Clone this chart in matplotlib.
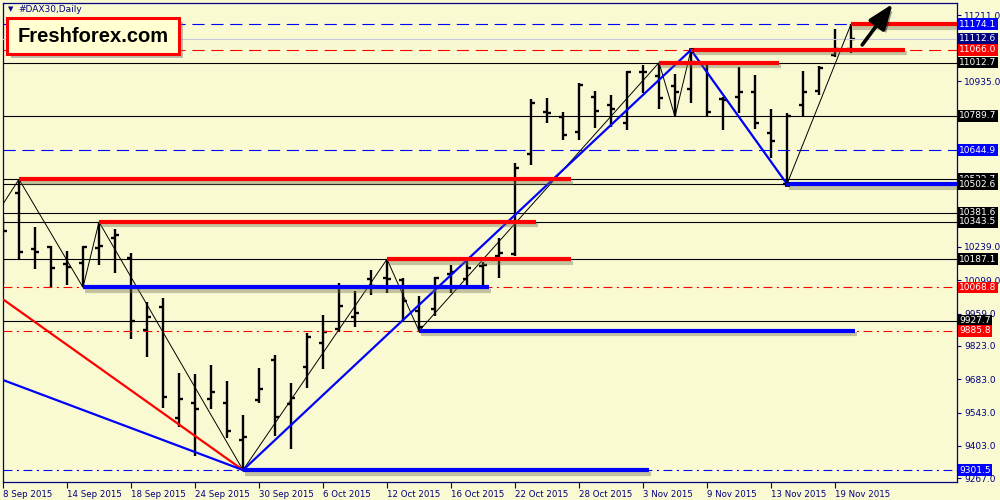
import numpy as np
import matplotlib
matplotlib.use('Agg')
import matplotlib.pyplot as plt
import matplotlib.patheffects as pe
import matplotlib.transforms as mtransforms
from matplotlib.patches import Rectangle

# datos diarios DAX30 (8 Sep - 20 Nov 2015)
opens = [10150, 10465.1, 10230, 10239.6, 10166.9, 10172.4, 10232.9, 10274.8, 10193.4, 9889.7,
         9987.9, 9521.4, 9584.4, 9598.6, 9584.4, 9427.7, 9595.7, 9763.7, 9579.0, 9733.0,
         9833.8, 9892.6, 9943.0, 10103.9, 10108.0, 10099.7, 9969.5, 9977.9, 10123.6, 10102.6,
         10158.5, 10200.5, 10207.6, 10627.7, 10806.6, 10783.0, 10722.6, 10869.6, 10834.7, 10757.8,
         10973.3, 10956.5, 10914.5, 10900.6, 11006.9, 10859.9, 10867.1, 10890.6, 10718.4, 10505.0,
         10834.7, 10895.6, 11044.7, 11068.6]
highs = [10364.3, 10522.7, 10321.0, 10242.5, 10221.5, 10242.5, 10343.5, 10312.6, 10211.8, 10008.9,
         10022.8, 9707.8, 9704.9, 9742.7, 9676.8, 9532.7, 9728.8, 9784.7, 9668.4, 9875.8,
         9952.7, 10085.8, 10054.8, 10141.7, 10187.1, 10106.8, 10032.5, 10113.6, 10162.7, 10197.6,
         10176.6, 10274.8, 10589.8, 10858.6, 10862.8, 10806.6, 10925.8, 10894.8, 10876.7, 10978.8,
         11002.7, 11012.7, 10963.6, 11066.0, 11012.4, 10869.6, 10995.6, 10960.7, 10816.6, 10799.8,
         10977.5, 10998.5, 11152.6, 11174.1]
lows = [10082.9, 10183.7, 10145.9, 10071.6, 10078.7, 10068.8, 10162.7, 10127.8, 9850.6, 9777.6,
        9560.8, 9480.9, 9360.5, 9556.6, 9434.8, 9301.5, 9581.8, 9444.5, 9388.8, 9644.8,
        9724.6, 9882.6, 9901.0, 10036.7, 10046.4, 9924.6, 9885.8, 9948.5, 10046.4, 10071.6,
        10071.6, 10106.8, 10200.5, 10582.7, 10757.7, 10687.7, 10687.7, 10739.4, 10743.6, 10729.7,
        10883.8, 10816.6, 10785.6, 10841.8, 10785.6, 10729.7, 10799.8, 10732.6, 10610.9, 10502.6,
        10785.6, 10876.7, 11035.0, 11051.8]
closes = [10305.5, 10218.6, 10216.0, 10151.4, 10155.6, 10239.6, 10243.8, 10288.7, 9928.8, 9945.6,
          9609.6, 9601.2, 9556.6, 9628.1, 9466.8, 9439.0, 9640.8, 9525.6, 9602.8, 9859.0,
          9882.6, 9991.8, 9961.0, 10074.5, 10104.0, 10012.8, 9903.6, 10109.4, 10133.3, 10148.8,
          10162.7, 10214.4, 10568.8, 10841.8, 10799.8, 10708.7, 10918.7, 10809.5, 10816.6, 10974.6,
          10972.0, 10865.4, 10890.6, 11015.3, 10806.6, 10857.8, 10890.6, 10757.8, 10684.8, 10789.8,
          10890.6, 10988.8, 11068.6, 11112.6]

date_labels = ['8 Sep 2015', '14 Sep 2015', '18 Sep 2015', '24 Sep 2015', '30 Sep 2015',
               '6 Oct 2015', '12 Oct 2015', '16 Oct 2015', '22 Oct 2015', '28 Oct 2015',
               '3 Nov 2015', '9 Nov 2015', '13 Nov 2015', '19 Nov 2015']
price_ticks = [11211.0, 10935.0, 10239.0, 10099.0, 9959.0, 9823.0, 9683.0, 9543.0, 9403.0, 9267.0]

# niveles horizontales
solid_levels = [11012.7, 10789.7, 10522.7, 10502.6, 10381.6, 10343.5, 10187.1, 9927.7]
blue_dash_levels = [11174.1, 10644.9]
red_dash_levels = [11066.0]
red_dashdot_levels = [10068.8, 9885.8]
blue_dashdot_levels = [9301.5]
bid = 11112.6

# segmentos gruesos (inicio, fin, precio)
red_segments = [(53, 60, 11174.1), (43, 56.4, 11066.0), (41, 48.5, 11012.7),
                (1, 35.5, 10522.7), (6, 33.3, 10343.5), (24, 35.5, 10187.1)]
blue_segments = [(49, 60, 10502.6), (5, 30.4, 10068.8), (26, 53.25, 9885.8), (15, 40.4, 9301.5)]

# lineas diagonales
zigzag_x = [-1, 1, 5, 6, 15, 24, 26, 41, 42, 43, 49, 53]
zigzag_y = [10315, 10522.7, 10068.8, 10343.5, 9301.5, 10187.1, 9885.8, 11012.7, 10785.6, 11066.0, 10502.6, 11174.1]
trend_x = [15, 43, 49]
trend_y = [9301.5, 11066.0, 10502.6]
red_fan_x = [0, 15]
red_fan_y = [10018.6, 9301.5]
blue_fan_x = [0, 15]
blue_fan_y = [9679.7, 9301.5]

# etiquetas de precio a la derecha
price_labels = [(11174.1, '#0000ff'), (11112.6, '#000080'), (11066.0, '#ff0000'), (11012.7, 'black'),
                (10789.7, 'black'), (10644.9, '#0000ff'), (10522.7, 'black'), (10502.6, 'black'),
                (10381.6, 'black'), (10343.5, 'black'), (10187.1, 'black'), (10068.8, '#ff0000'),
                (9927.7, 'black'), (9885.8, '#ff0000'), (9301.5, '#0000ff')]

bg = '#fafad2'
navy = '#000080'
plt.rcParams['font.family'] = 'DejaVu Sans'

fig = plt.figure(figsize=(10, 5), dpi=100, facecolor=bg)
ax = fig.add_axes([0.003, 0.036, 0.954, 0.958], facecolor=bg)

x = np.arange(len(opens))
ax.vlines(x, lows, highs, color='black', lw=1.7, zorder=2)
ax.hlines(opens, x - 0.28, x, color='black', lw=1.7, zorder=2)
ax.hlines(closes, x, x + 0.28, color='black', lw=1.7, zorder=2)

for lv in solid_levels:
    ax.axhline(lv, color='black', lw=0.8, zorder=3)
for lv in blue_dash_levels:
    ax.axhline(lv, color='#0000ff', lw=0.8, ls=(0, (11, 6)), zorder=3)
for lv in red_dash_levels:
    ax.axhline(lv, color='#ff0000', lw=0.8, ls=(0, (11, 6)), zorder=3)
for lv in red_dashdot_levels:
    ax.axhline(lv, color='#ff0000', lw=0.8, ls=(0, (8, 4, 2, 4)), zorder=3)
for lv in blue_dashdot_levels:
    ax.axhline(lv, color='#0000ff', lw=0.8, ls=(0, (8, 4, 2, 4)), zorder=3)
ax.axhline(bid, color='#c8c8dc', lw=0.8, zorder=3)

shadow = [pe.SimpleLineShadow(offset=(1.5, -2.5), shadow_color='#707050', alpha=0.4), pe.Normal()]
for x0, x1, p in red_segments:
    ax.plot([x0, x1], [p, p], color='#ff0000', lw=3, solid_capstyle='butt', zorder=5, path_effects=shadow)
for x0, x1, p in blue_segments:
    ax.plot([x0, x1], [p, p], color='#0000ff', lw=3, solid_capstyle='butt', zorder=5, path_effects=shadow)

ax.plot(zigzag_x, zigzag_y, color='black', lw=0.7, zorder=4)
ax.plot(red_fan_x, red_fan_y, color='#ff0000', lw=1.6, zorder=4)
ax.plot(blue_fan_x, blue_fan_y, color='#0000ff', lw=1.6, zorder=4)
ax.plot(trend_x, trend_y, color='#0000ff', lw=1.6, zorder=4)
ax.plot([43], [11066.0], marker='s', ms=3.5, mfc='none', mec='black', mew=0.6, zorder=6)
ax.plot([49], [10502.6], marker='s', ms=3.5, mfc='#0000ff', mec='black', mew=0.6, zorder=6)

# flecha
ax.annotate('', xy=(55.6, 11259), xytext=(53.7, 11087),
            arrowprops=dict(arrowstyle='-|>,head_length=1.1,head_width=0.42', lw=2.6, color='black',
                            mutation_scale=14, shrinkA=0, shrinkB=0,
                            path_effects=[pe.SimplePatchShadow(offset=(2, -2), alpha=0.4), pe.Normal()]),
            annotation_clip=False, zorder=7)

ax.set_xlim(0, 59.625)
ax.set_ylim(9251.3, 11263.1)

ax.yaxis.tick_right()
ax.set_yticks(price_ticks)
ax.set_yticklabels(['%.1f' % t for t in price_ticks])
ax.set_xticks(x[::4])
ax.set_xticklabels(date_labels, ha='left')
ax.tick_params(axis='y', colors=navy, labelcolor=navy, length=3, width=0.8, pad=2, labelsize=6.5)
ax.tick_params(axis='x', colors=navy, labelcolor=navy, length=4, width=0.8, pad=1.5, labelsize=6.2)
for s in ax.spines.values():
    s.set_color(navy)
    s.set_linewidth(0.9)

trans = mtransforms.blended_transform_factory(ax.transAxes, ax.transData)
for p, c in price_labels:
    ax.text(1.0025, p, '%.1f' % p, transform=trans, ha='left', va='center', fontsize=6.5,
            color='white', clip_on=False, zorder=8,
            bbox=dict(boxstyle='square,pad=0.15', fc=c, ec='none'))

# titulo y logo
fig.text(0.018, 1 - 10 / 500, '#DAX30,Daily', fontsize=6.5, color=navy, va='center', ha='left')
fig.text(0.0105, 1 - 9.5 / 500, '\u25bc', fontsize=5, color=navy, va='center', ha='center')
box = Rectangle((7 / 1000, 1 - 54 / 500), 172 / 1000, 36 / 500, transform=fig.transFigure,
                fc='#ffffd2', ec='#ff0000', lw=2.2, zorder=10,
                path_effects=[pe.SimplePatchShadow(offset=(3, -3), shadow_rgbFace='gray', alpha=0.5), pe.Normal()])
fig.patches.append(box)
fig.text(93 / 1000, 1 - 36.5 / 500, 'Freshforex.com', family='Liberation Sans', weight='bold',
         fontsize=14.5, color='black', ha='center', va='center', zorder=11)

fig.savefig('out.png', dpi=100, facecolor=bg)
